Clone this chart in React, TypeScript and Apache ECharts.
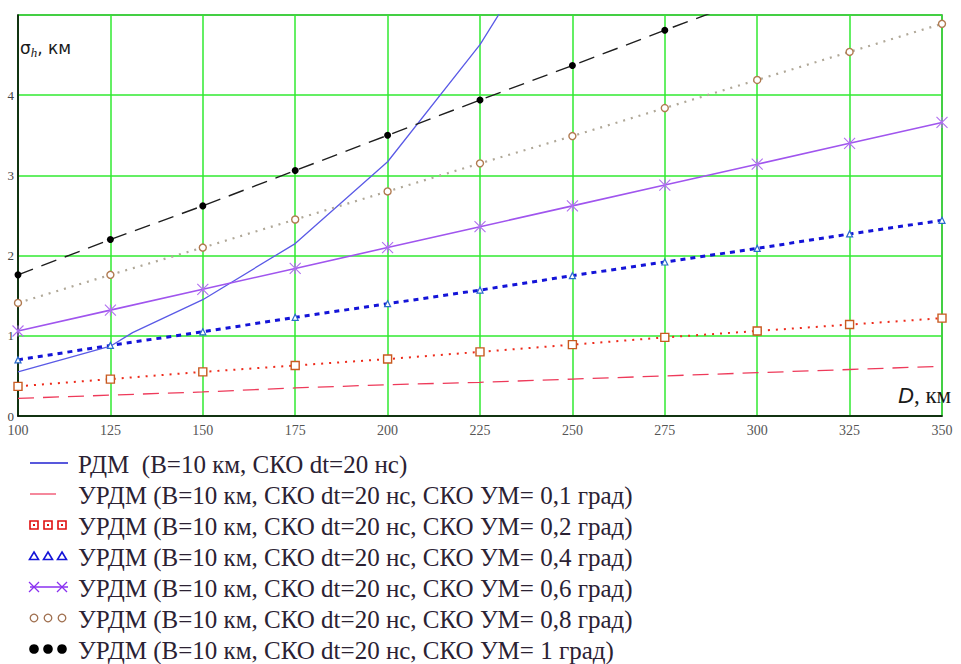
import React, { useEffect, useRef } from "react";
import * as echarts from "echarts";

// ---- data ----
const distances = [100, 125, 150, 175, 200, 225, 250, 275, 300, 325, 350];
const rdmDist = [100, 125, 131, 150, 175, 200, 225, 235];
const rdmValues = [0.55, 0.87, 1.04, 1.45, 2.15, 3.17, 4.63, 5.37];
const urdm01 = [0.22, 0.26, 0.3, 0.35, 0.39, 0.42, 0.46, 0.5, 0.54, 0.58, 0.62];
const urdm02 = [0.37, 0.46, 0.55, 0.63, 0.71, 0.8, 0.89, 0.98, 1.06, 1.14, 1.22];
const urdm04 = [0.7, 0.88, 1.05, 1.23, 1.4, 1.57, 1.75, 1.92, 2.09, 2.27, 2.44];
const urdm06 = [1.06, 1.32, 1.58, 1.84, 2.1, 2.36, 2.62, 2.88, 3.14, 3.4, 3.66];
const urdm08 = [1.41, 1.76, 2.1, 2.45, 2.8, 3.15, 3.49, 3.84, 4.19, 4.54, 4.89];
const urdm10 = [1.76, 2.2, 2.62, 3.06, 3.5, 3.94, 4.37, 4.81, 5.24, 5.68, 6.11];

const legendLabels = [
  "РДМ  (В=10 км, СКО dt=20 нс)",
  "УРДМ (В=10 км, СКО dt=20 нс, СКО УМ= 0,1 град)",
  "УРДМ (В=10 км, СКО dt=20 нс, СКО УМ= 0,2 град)",
  "УРДМ (В=10 км, СКО dt=20 нс, СКО УМ= 0,4 град)",
  "УРДМ (В=10 км, СКО dt=20 нс, СКО УМ= 0,6 град)",
  "УРДМ (В=10 км, СКО dt=20 нс, СКО УМ= 0,8 град)",
  "УРДМ (В=10 км, СКО dt=20 нс, СКО УМ= 1 град)",
];

const xTicks = { min: 100, max: 350, step: 25 };
const yTicks = { min: 0, max: 5, step: 1 };

const pairs = (xs: number[], ys: number[]) => xs.map((x, i) => [x, ys[i]]);

const C_RDM = "#5a5ae6";
const C_01 = "#ee3a5a";
const C_02 = "#ee2a1a";
const C_04 = "#1414d8";
const C_06 = "#a055ee";
const C_08 = "#b0a898";
const C_08M = "#b07a50";
const C_10 = "#1e1e1e";

function legendTexts() {
  return legendLabels.map((t, i) => ({
    type: "text",
    x: 78,
    y: 464 + i * 31,
    style: { text: t, fontFamily: "serif", fontSize: 25, fill: "#2b2233", verticalAlign: "middle" },
  }));
}

function legendSymbols() {
  const els: any[] = [];
  legendLabels.forEach((_, i) => {
    const y = 463 + i * 31;
    const xs = [34, 48, 62];
    if (i === 0) {
      els.push({ type: "line", shape: { x1: 30, y1: y, x2: 68, y2: y }, style: { stroke: "#2020d0", lineWidth: 1.5 } });
    } else if (i === 1) {
      els.push({ type: "line", shape: { x1: 30, y1: y, x2: 56, y2: y }, style: { stroke: C_01, lineWidth: 1.2 } });
    } else if (i === 2) {
      xs.forEach((cx) => {
        els.push({ type: "rect", shape: { x: cx - 4, y: y - 4, width: 8, height: 8 }, style: { fill: "none", stroke: "#e01010", lineWidth: 1.6 } });
        els.push({ type: "rect", shape: { x: cx - 1, y: y - 1, width: 2, height: 2 }, style: { fill: "#e01010" } });
      });
    } else if (i === 3) {
      xs.forEach((cx) => {
        els.push({ type: "polygon", shape: { points: [[cx, y - 4], [cx + 4.5, y + 3.5], [cx - 4.5, y + 3.5]] }, style: { fill: "none", stroke: "#1414d8", lineWidth: 1.6 } });
      });
    } else if (i === 4) {
      els.push({ type: "line", shape: { x1: 30, y1: y, x2: 68, y2: y }, style: { stroke: "#8a30f0", lineWidth: 1.3 } });
      [34, 62].forEach((cx) => {
        els.push({ type: "line", shape: { x1: cx - 5, y1: y - 5, x2: cx + 5, y2: y + 5 }, style: { stroke: "#8a30f0", lineWidth: 1.2 } });
        els.push({ type: "line", shape: { x1: cx - 5, y1: y + 5, x2: cx + 5, y2: y - 5 }, style: { stroke: "#8a30f0", lineWidth: 1.2 } });
      });
    } else if (i === 5) {
      xs.forEach((cx) => {
        els.push({ type: "circle", shape: { cx, cy: y, r: 3.8 }, style: { fill: "none", stroke: "#a07050", lineWidth: 1.3 } });
      });
    } else {
      xs.forEach((cx) => {
        els.push({ type: "circle", shape: { cx, cy: y, r: 4.8 }, style: { fill: "#000" } });
      });
    }
  });
  return els;
}

export default function App() {
  const ref = useRef<HTMLDivElement>(null);
  useEffect(() => {
    if (!ref.current) return;
    const chart = echarts.init(ref.current, null, { renderer: "svg" });
    const gridGreen = "#30ea30";
    const option: any = {
      animation: false,
      backgroundColor: "#ffffff",
      grid: {
        left: 18,
        top: 15,
        width: 924,
        height: 401,
        show: true,
        borderColor: "#555555",
        borderWidth: 1.5,
      },
      xAxis: {
        type: "value",
        min: xTicks.min,
        max: xTicks.max,
        interval: xTicks.step,
        axisLine: { show: true, lineStyle: { color: "#000", width: 1.5 } },
        axisTick: { show: false },
        axisLabel: { color: "#555", fontFamily: "serif", fontSize: 14, margin: 7 },
        splitLine: { show: true, lineStyle: { color: gridGreen, width: 1.5 } },
      },
      yAxis: {
        type: "value",
        min: yTicks.min,
        max: yTicks.max,
        interval: yTicks.step,
        axisLine: { show: true, lineStyle: { color: "#000", width: 1.5 } },
        axisTick: { show: false },
        axisLabel: { color: "#444", fontFamily: "serif", fontSize: 13, margin: 4, showMaxLabel: false },
        splitLine: { show: true, lineStyle: { color: gridGreen, width: 1.5 } },
      },
      series: [
        {
          name: legendLabels[0],
          type: "line",
          data: pairs(rdmDist, rdmValues),
          showSymbol: false,
          lineStyle: { color: C_RDM, width: 1.3 },
        },
        {
          name: legendLabels[1],
          type: "line",
          data: pairs(distances, urdm01),
          showSymbol: false,
          lineStyle: { color: C_01, width: 1.3, type: [16, 9] },
        },
        {
          name: legendLabels[2],
          type: "line",
          data: pairs(distances, urdm02),
          symbol: "rect",
          symbolSize: 8,
          itemStyle: { color: "#ffffff", borderColor: "#c85a20", borderWidth: 1.4 },
          lineStyle: { color: C_02, width: 2, type: [2, 6] },
        },
        {
          name: legendLabels[3],
          type: "line",
          data: pairs(distances, urdm04),
          symbol: "triangle",
          symbolSize: 6,
          itemStyle: { color: "#ffffff", borderColor: "#2a6acc", borderWidth: 1.2 },
          lineStyle: { color: C_04, width: 3, type: [5, 5] },
        },
        {
          name: legendLabels[4],
          type: "line",
          data: pairs(distances, urdm06),
          symbol: "path://M0,0L10,10M10,0L0,10M5,0L5,10",
          symbolSize: 11,
          itemStyle: { color: "none", borderColor: "#b070f0", borderWidth: 1.1 },
          lineStyle: { color: C_06, width: 1.6 },
        },
        {
          name: legendLabels[5],
          type: "line",
          data: pairs(distances, urdm08),
          symbol: "circle",
          symbolSize: 7,
          itemStyle: { color: "#ffffff", borderColor: C_08M, borderWidth: 1.4 },
          lineStyle: { color: C_08, width: 2.2, type: [2, 6] },
          z: 3,
        },
        {
          name: legendLabels[6],
          type: "line",
          data: pairs(distances, urdm10),
          symbol: "circle",
          symbolSize: 7,
          itemStyle: { color: "#000" },
          lineStyle: { color: C_10, width: 1.4, type: [16, 9] },
        },
      ],
      graphic: [
        ...legendTexts(),
        ...legendSymbols(),
        {
          type: "rect",
          shape: { x: 19, y: 36, width: 70, height: 24 },
          style: { fill: "#ffffff" },
          z: 100,
        },
        {
          type: "text",
          x: 20,
          y: 48,
          z: 101,
          style: {
            text: "{a|σ}{b|h}{a|, км}",
            verticalAlign: "middle",
            rich: {
              a: { fontFamily: "DejaVu Sans", fontSize: 17, fill: "#1a1a1a" },
              b: { fontFamily: "serif", fontStyle: "italic", fontSize: 13, fill: "#1a1a1a", padding: [8, 0, 0, 0] },
            },
          },
        },
        {
          type: "text",
          x: 898,
          y: 395,
          z: 101,
          style: {
            text: "{d|D}{k|, км}",
            verticalAlign: "middle",
            rich: {
              d: { fontFamily: "sans-serif", fontStyle: "italic", fontSize: 22, fill: "#1a1a1a" },
              k: { fontFamily: "serif", fontSize: 23, fill: "#1a1a1a" },
            },
          },
        },
      ],
    };
    chart.setOption(option);
    return () => chart.dispose();
  }, []);
  return (
    <div
      ref={ref}
      style={{ position: "fixed", left: 0, top: 0, width: 961, height: 664, background: "#fff" }}
    />
  );
}
